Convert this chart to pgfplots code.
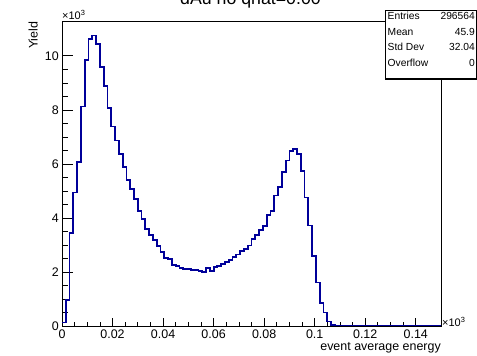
\documentclass[border=0pt]{standalone}
\usepackage{pgfplots}
\pgfplotsset{compat=1.18}
\usepackage{pgfplotstable}
\usepackage{fontspec}
\setmainfont{Liberation Sans}
\definecolor{histblue}{RGB}{0,0,153}

\pgfplotstableread{
x y
0.0000 130
0.0015 960
0.0030 3457
0.0045 4938
0.0060 6074
0.0075 8123
0.0090 9852
0.0105 10630
0.0120 10753
0.0135 10444
0.0150 9580
0.0165 8889
0.0180 8062
0.0195 7383
0.0210 6864
0.0225 6370
0.0240 5877
0.0255 5407
0.0270 5062
0.0285 4691
0.0300 4259
0.0315 3951
0.0330 3605
0.0345 3370
0.0360 3185
0.0375 2975
0.0390 2753
0.0405 2520
0.0420 2469
0.0435 2250
0.0450 2210
0.0465 2160
0.0480 2111
0.0495 2099
0.0510 2086
0.0525 2062
0.0540 2049
0.0555 1988
0.0570 2136
0.0585 2037
0.0600 2197
0.0615 2234
0.0630 2284
0.0645 2358
0.0660 2440
0.0675 2550
0.0690 2650
0.0705 2790
0.0720 2840
0.0735 2980
0.0750 3220
0.0765 3380
0.0780 3555
0.0795 3700
0.0810 4100
0.0825 4265
0.0840 4830
0.0855 5150
0.0870 5710
0.0885 6123
0.0900 6490
0.0915 6556
0.0930 6370
0.0945 5750
0.0960 4760
0.0975 3720
0.0990 2600
0.1005 1610
0.1020 864
0.1035 500
0.1050 170
0.1065 45
0.1080 15
0.1095 0
0.1500 0
}\hist

\begin{document}
\begin{tikzpicture}
\path[use as bounding box] (0bp,0bp) rectangle (477bp,356bp);
\begin{axis}[
  at={(62bp,30bp)}, anchor=south west,
  scale only axis, width=379bp, height=305bp,
  xmin=0, xmax=0.15, ymin=0, ymax=11290,
  xtick={0,0.02,0.04,0.06,0.08,0.1,0.12,0.14},
  xticklabels={0,0.02,0.04,0.06,0.08,0.1,0.12,0.14},
  ytick={0,2000,4000,6000,8000,10000},
  yticklabels={0,2,4,6,8,10},
  minor x tick num=3, minor y tick num=3,
  tick align=inside, tick pos=left,
  major tick length=11bp, minor tick length=6bp,
  xtick style={/pgfplots/major tick length=8bp,/pgfplots/minor tick length=4bp},
  axis line style={line width=0.8bp},
  every tick/.style={black, line width=0.7bp},
  ticklabel style={font=\fontsize{12.5}{14}\selectfont, inner sep=0pt},
  xticklabel style={anchor=north, yshift=-4bp},
  yticklabel style={anchor=east, xshift=-3bp},
  /pgf/number format/assume math mode=true,
  scaled ticks=false,
]
\addplot[const plot mark left, histblue, line width=1.8bp] table[x=x,y=y]{\hist};
\end{axis}
% title (cut by the page edge, as in the reference)
\node[anchor=base, inner sep=0pt, font=\fontsize{17.8}{20}\selectfont] at (250.5bp,351bp) {dAu no qhat=0.00};
% axis titles
\node[rotate=90, anchor=base east, inner sep=0pt, font=\fontsize{12.5}{14}\selectfont] at (37.5bp,334.5bp) {Yield};
\node[anchor=base east, inner sep=0pt, font=\fontsize{12.5}{14}\selectfont] at (441bp,5.5bp) {event average energy};
% exponents
\node[anchor=base west, inner sep=0pt, font=\fontsize{11}{12}\selectfont] at (62bp,336bp) {×10\raisebox{4bp}{\fontsize{7.5}{8}\selectfont 3}};
\node[anchor=base west, inner sep=0pt, font=\fontsize{11}{12}\selectfont] at (442bp,30bp) {×10\raisebox{4bp}{\fontsize{7.5}{8}\selectfont 3}};
% stats box
\draw[fill=white, line width=0.8bp] (385bp,277bp) rectangle (476.5bp,346bp);
\draw[line width=1.4bp] (385bp,277.3bp) -- (476.5bp,277.3bp);
\begin{scope}[every node/.style={inner sep=0pt, font=\fontsize{10.3}{12}\selectfont}]
\node[anchor=base west] at (387.5bp,336.5bp) {Entries};
\node[anchor=base east] at (475bp,336.5bp) {296564};
\node[anchor=base west] at (387.5bp,320.5bp) {Mean};
\node[anchor=base east] at (475bp,320.5bp) {45.9};
\node[anchor=base west] at (387.5bp,305bp) {Std Dev};
\node[anchor=base east] at (475bp,305bp) {32.04};
\node[anchor=base west] at (387.5bp,289.5bp) {Overflow};
\node[anchor=base east] at (475bp,289.5bp) {0};
\end{scope}
\end{tikzpicture}
\end{document}
